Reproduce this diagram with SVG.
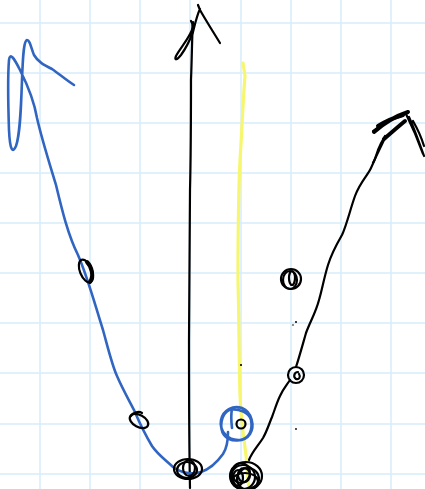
<svg xmlns="http://www.w3.org/2000/svg" width="425" height="489" viewBox="0 0 425 489">
<defs>
<style>
.grid line{stroke:#d6ecfb;stroke-width:1.5}
.ink{fill:none;stroke:#000;stroke-width:2.2;stroke-linecap:round;stroke-linejoin:round}
.thick{fill:none;stroke:#000;stroke-width:4;stroke-linecap:round;stroke-linejoin:round}
.blue{fill:none;stroke:#3165c2;stroke-width:2.6;stroke-linecap:round;stroke-linejoin:round}
.yel{fill:none;stroke:#f6f76e;stroke-width:3.2;stroke-linecap:round;stroke-linejoin:round}
.dot{fill:#000}
</style>
</defs>
<rect width="425" height="489" fill="#fff"/>
<g class="grid">
<line x1="40" y1="0" x2="40" y2="489"/><line x1="90" y1="0" x2="90" y2="489"/><line x1="140" y1="0" x2="140" y2="489"/><line x1="190" y1="0" x2="190" y2="489"/><line x1="241" y1="0" x2="241" y2="489"/><line x1="291" y1="0" x2="291" y2="489"/><line x1="341" y1="0" x2="341" y2="489"/><line x1="391" y1="0" x2="391" y2="489"/>
<line x1="0" y1="23" x2="425" y2="23"/><line x1="0" y1="73" x2="425" y2="73"/><line x1="0" y1="123" x2="425" y2="123"/><line x1="0" y1="173" x2="425" y2="173"/><line x1="0" y1="223" x2="425" y2="223"/><line x1="0" y1="273" x2="425" y2="273"/><line x1="0" y1="323" x2="425" y2="323"/><line x1="0" y1="373" x2="425" y2="373"/><line x1="0" y1="424" x2="425" y2="424"/><line x1="0" y1="474" x2="425" y2="474"/>
</g>
<g id="yellow-line">
<path class="yel" d="M243,63 L245,76 C243,100 242,130 240,160 C238,200 238,240 238,280 C239,320 239,360 240,395 C241,420 244,440 246,455 C247,470 248,480 249,489"/>
</g>
<g id="black-axis">
<path class="ink" d="M190,488 C189,440 189,400 189,340 C189,280 190,230 190,190 C191,150 191,110 191,80 C192,55 192,35 193,22"/>
<path class="ink" d="M191,21 C194,25 193,29 190,34 C186,42 179,50 176,56 C174,61 177,60 181,55 C186,48 190,40 193,32 C195,24 197,15 200,9 M198,5 L200,10 C205,19 212,30 220,43"/>
</g>
<g id="blue-curve">
<path class="blue" d="M74,85 C66,80 58,73 52,69 C44,65 38,62 34,55 C31,48 30,40 27,40 C24,41 23,52 22,80 C21,110 20,135 16,146 C13,153 10,152 9,130 C8,100 8,72 9,60 C10,52 14,58 20,70 C28,86 34,100 37,118 C42,140 50,165 56,185 C62,210 68,235 78,255 C88,278 95,305 103,330 C108,348 112,365 117,376 C123,390 129,400 134,410 C140,424 146,436 152,446 C158,455 167,461 173,467 C181,473 192,475 201,472 C210,469 218,461 223,454 C227,448 228,442 228,432"/>
<path class="blue" d="M229,410 C221,414 219,428 224,435 C230,443 245,442 250,434 C255,426 252,412 242,408 C233,405 223,410 221,420 C219,431 228,441 240,440 C249,439 253,430 251,420 C249,412 238,408 229,410 M232,428 C231,420 231,414 232,409"/>
</g>
<g id="black-right-curve">
<path class="ink" d="M249,460 C252,452 258,446 263,438 C267,431 269,424 272,417 C275,409 277,402 280,396 C283,389 286,386 290,380 M296,367 C299,358 302,347 306,333 C310,322 316,312 319,300 C322,290 324,278 328,265 C332,252 338,242 342,235 C347,224 350,210 355,196 C360,182 368,175 371,168 C374,162 376,157 378,150 C380,145 382,141 385,136"/>
</g>
<g id="arrowhead-right">
<path class="thick" d="M374,132 C385,122 396,116 408,112 M378,126 C388,120 396,117 403,115 M384,139 C392,132 399,126 405,121"/>
<path class="ink" d="M373,131 C382,124 392,119 402,116 M406,114 C412,126 418,140 423,154 M409,117 C414,128 419,142 424,156 M413,121 C417,128 421,136 424,146 M373,163 L384,140"/>
</g>
<g id="mark-1"><ellipse class="ink" cx="86" cy="271" rx="6" ry="12" transform="rotate(-22 86 271)"/><path class="thick" d="M87,262 C92,267 94,276 90,282"/></g>
<g id="mark-2"><ellipse class="ink" cx="139" cy="421" rx="10" ry="6" transform="rotate(28 139 421)"/><path class="ink" d="M131,416 C133,412 139,411 142,413"/></g>
<g id="mark-3"><ellipse class="ink" cx="188" cy="469" rx="14" ry="10"/><ellipse class="ink" cx="187" cy="470" rx="10" ry="8"/><ellipse class="ink" cx="189" cy="468" rx="6" ry="8"/></g>
<g id="mark-4"><circle class="ink" cx="291" cy="279" r="10"/><ellipse class="ink" cx="290" cy="280" rx="7" ry="9"/><ellipse class="ink" cx="292" cy="278" rx="3" ry="7"/></g>
<g id="mark-5"><circle class="ink" cx="296" cy="375" r="8"/><path class="ink" d="M298,372 C294,372 293,377 296,379 C299,380 301,377 299,374"/></g>
<g id="mark-6"><circle class="ink" cx="241" cy="424" r="4.5"/></g>
<g id="mark-7">
<ellipse class="ink" cx="246" cy="476" rx="16" ry="14"/><ellipse class="ink" cx="243" cy="477" rx="12" ry="12"/><ellipse class="ink" cx="248" cy="479" rx="11" ry="11"/><ellipse class="ink" cx="241" cy="473" rx="9" ry="10"/><ellipse class="ink" cx="245" cy="481" rx="13" ry="8"/><ellipse class="ink" cx="244" cy="475" rx="6" ry="7"/><ellipse class="ink" cx="238" cy="478" rx="5" ry="8"/>
</g>
<g id="dots"><circle class="dot" cx="296" cy="322" r="1"/><circle class="dot" cx="293" cy="325" r="0.8"/><circle class="dot" cx="241" cy="365" r="1.1"/><circle class="dot" cx="296" cy="429" r="0.9"/></g>
</svg>
